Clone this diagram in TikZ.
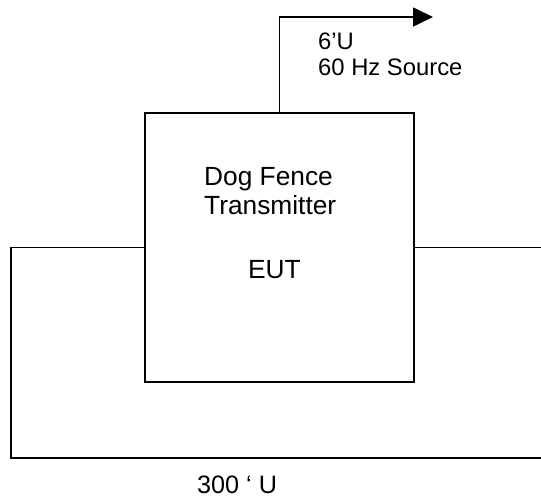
\documentclass[tikz,border=0pt]{standalone}
\usepackage{fontspec}
\setmainfont{Liberation Sans}
\usetikzlibrary{arrows.meta}
\begin{document}
\begin{tikzpicture}[x=1bp,y=-1bp,
  wire/.style={line width=1.6bp,line cap=rect},
  label/.style={inner sep=0pt,anchor=base west,font=\fontsize{26.4}{30}\selectfont},
  looplabel/.style={inner sep=0pt,anchor=base west,font=\fontsize{25.3}{30}\selectfont},
  toplabel/.style={inner sep=0pt,anchor=base west,font=\fontsize{23.9}{26}\selectfont}]
  \useasboundingbox (0,0) rectangle (541,502);
  % transmitter box
  \node[draw,line width=1.6bp,minimum width=269bp,minimum height=269bp,inner sep=0pt]
    (eut) at (279.5,247.5) {};
  % 60 Hz supply lead
  \coordinate (tip) at (433,17);
  \draw[wire,-{Triangle[length=20bp,width=19bp]}] (eut.north) |- (tip);
  % loop wire
  \coordinate (lt) at (11,247.5);
  \coordinate (lb) at (11,458);
  \coordinate (rb) at (541,458);
  \coordinate (re) at (541,247.5);
  \draw[wire] (eut.west) -- (lt) -- (lb) -- (rb);
  \draw[wire] (eut.east) -- (re);
  % labels
  \node[toplabel] (l1) at (318,50) {6’U};
  \node[toplabel] (l2) at (318,76) {60 Hz Source};
  \node[label] (t1) at (204,186) {Dog Fence};
  \node[label] (t2) at (204,215) {Transmitter};
  \node[label] (t3) at (248,278) {EUT};
  \node[looplabel] (t4) at (197,493) {300 ‘ U};
\end{tikzpicture}
\end{document}
